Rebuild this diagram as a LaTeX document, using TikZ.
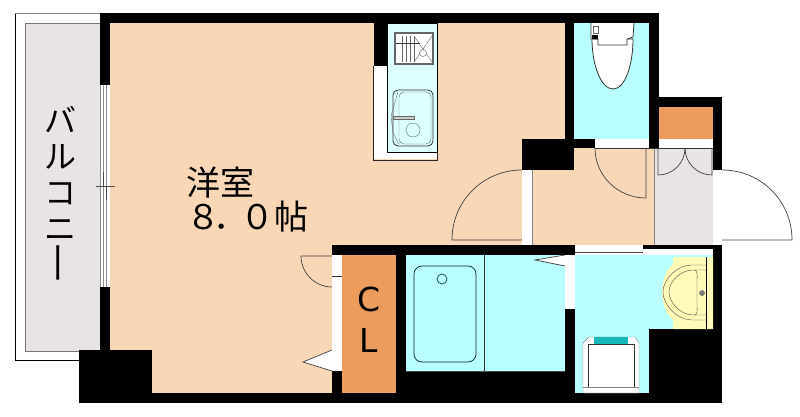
\documentclass[tikz,border=0pt]{standalone}
\usepackage{fontspec}
\usepackage{graphicx}
\setmainfont{Noto Sans CJK JP}
\newfontfamily\latinfont{DejaVu Sans}
\definecolor{floorcol}{HTML}{F8D7B7}
\definecolor{graycol}{HTML}{E9E4E4}
\definecolor{bathcol}{HTML}{B9FFFF}
\definecolor{kitchencol}{HTML}{DDFFFF}
\definecolor{closetcol}{HTML}{EC9C5C}
\definecolor{basincol}{HTML}{FFFAB8}
\definecolor{tealcol}{HTML}{14B8B8}
\begin{document}
\begin{tikzpicture}[x=1pt,y=-1pt]
		\tikzstyle{wall}=[fill=black, draw=none];
		\tikzstyle{floorarea}=[fill=floorcol, draw=none];
		\tikzstyle{wetarea}=[fill=bathcol, draw=none];
		\tikzstyle{closetarea}=[fill=closetcol, draw=none];
		\tikzstyle{opening}=[fill=white, draw=none];
		\tikzstyle{doorline}=[draw=black!75, line width=0.7pt];
		\tikzstyle{fixture}=[draw=black!80, line width=0.8pt];
		\tikzstyle{label}=[inner sep=0pt, font=\fontsize{34}{36}\selectfont, align=center];
		\useasboundingbox (0,0) rectangle (800,416);
		\fill[floorarea] (110,23) -- (565,23) -- (565,139) -- (522,139) -- (522,245) -- (332,245) -- (332,393) -- (152,393) -- (152,350) -- (110,350) -- cycle;
		\fill[floorarea] (532,148) rectangle (654,245);
		\fill[wetarea] (406,255) rectangle (565,371);
		\fill[wetarea] (575,255) -- (713,255) -- (713,329) -- (649,329) -- (649,393) -- (575,393) -- cycle;
		\fill[wetarea] (574,23) rectangle (649,139);
		\fill[closetarea] (342,255) rectangle (396,393);
		\fill[closetarea] (659,107) rectangle (713,139);
		\fill[graycol] (654,148) rectangle (713,245);
		\draw[black!50] (654,148) -- (654,245);
		\draw[black!50] (532,170) -- (532,245);
		\draw[black, line width=0.8pt] (15,13) -- (15,360) -- (79,360);
		\draw[black!50, line width=0.8pt] (15,13) -- (100,13);
		\draw[fill=graycol, draw=black!55, line width=0.8pt] (100,23) -- (25,23) -- (25,351) -- (100,351);
		\fill[wall] (100,13) rectangle (659,23);
		\fill[wall] (100,13) rectangle (110,85);
		\fill[wall] (100,287) rectangle (110,350);
		\fill[wall] (79,350) rectangle (152,403);
		\fill[wall] (79,393) rectangle (722,403);
		\fill[wall] (565,13) rectangle (574,148);
		\fill[wall] (649,13) rectangle (659,148);
		\fill[wall] (522,139) rectangle (574,170);
		\fill[wall] (574,139) rectangle (595,148);
		\fill[wall] (659,97) rectangle (722,107);
		\fill[wall] (713,97) rectangle (722,170);
		\fill[wall] (332,245) rectangle (575,255);
		\fill[wall] (643,245) rectangle (722,249);
		\fill[wall] (713,245) rectangle (722,403);
		\fill[wall] (649,329) rectangle (722,403);
		\fill[wall] (565,309) rectangle (575,403);
		\fill[wall] (396,255) rectangle (406,403);
		\fill[wall] (396,371) rectangle (575,403);
		\fill[wall] (332,371) rectangle (342,403);
		\fill[wall] (374,23) rectangle (387,66);
		\fill[opening] (100,85) rectangle (110,287);
		\draw[black!45] (100,85) -- (100,287);
		\draw[black!45] (103,85) -- (103,287);
		\draw[black!45] (106,85) -- (106,287);
		\draw[black!70] (96,186) -- (115,186);
		\draw[black!70] (103,172) -- (103,186);
		\draw[black!70] (106,186) -- (106,200);
		\fill[opening] (595,139) rectangle (649,148);
		\fill[opening] (659,139) rectangle (713,148);
		\fill[opening] (522,170) rectangle (532,245);
		\fill[opening] (713,170) rectangle (722,245);
		\fill[opening] (575,245) rectangle (643,252);
		\fill[opening] (643,249) rectangle (713,255);
		\fill[opening] (575,252) rectangle (643,255);
		\fill[wetarea] (575,255) rectangle (713,256);
		\fill[opening] (565,255) rectangle (575,309);
		\fill[opening] (332,255) rectangle (342,371);
		\draw[black!70] (575,252) -- (643,252);
		\draw[black!80] (595,148) -- (713,148);
		\draw[black!80] (332,276) -- (342,276);
		\draw[doorline] (522,170) .. controls (483,170) and (452,201) .. (452,240) -- (522,240);
		\draw[doorline] (722,170) .. controls (761,170) and (792,201) .. (792,240) -- (722,240);
		\draw[doorline] (595,148) .. controls (595,176) and (618,198) .. (646,198) -- (646,148);
		\draw[doorline] (658,148) -- (658,175) .. controls (673,175) and (685,163) .. (685,148);
		\draw[doorline] (712,148) -- (712,175) .. controls (697,175) and (685,163) .. (685,148);
		\draw[doorline] (332,287) .. controls (315,287) and (301,273) .. (301,256) -- (332,256);
		\draw[doorline, fill=white] (332,350) -- (303,362) -- (332,371);
		\draw[doorline, fill=white] (565,255) -- (535,260) -- (565,266);
		\draw[black!85] (373,66) -- (373,160) -- (437,160) -- (437,152);
		\fill[opening] (374,66) rectangle (387,159);
		\fill[opening] (374,152) rectangle (437,159);
		\draw[fill=kitchencol, draw=black, line width=0.7pt] (387,23) rectangle (437,152);
		\draw[fill=white, draw=black!60, line width=1.2pt] (395,33) rectangle (433,64);
		\foreach \xpos in {402,406,410,414}
			\draw[black!60] (\xpos,36) -- (\xpos,62);
		\draw[black!80] (396,43) -- (420,43);
		\draw[black!60] (414,36) -- (432,62);
		\draw[black!60] (432,36) -- (414,62);
		\draw[fill=white, draw=black!60] (423,53) circle (3.5);
		\draw[fixture, fill=kitchencol, rounded corners=5pt] (393,90) rectangle (433,146);
		\draw[draw=black!60, rounded corners=5pt] (399,92) rectangle (431,144);
		\draw[draw=black!60] (413,130) circle (7);
		\draw[draw=black!60, fill=white!80!black] (393,116) rectangle (414,119);
		\draw[draw=black!60] (398,92) -- (391,116) -- (393,133) -- (399,144);
		\draw[fixture, fill=white] (592,39) .. controls (592,65) and (601,89) .. (613,89) .. controls (625,89) and (633,65) .. (633,39) -- cycle;
		\draw[fixture, fill=white] (591,23) -- (591,39) -- (598,39) -- (598,45) -- (627,45) -- (627,39) -- (633,37) -- (634,23);
		\draw[black!60] (593,26) rectangle (598,33);
		\fill[black] (592,35) rectangle (598,39);
		\draw[fill=basincol, draw=none] (673,257) -- (713,257) -- (713,329) -- (673,329) -- (673,320) .. controls (666,314) and (662,303) .. (662,292) .. controls (662,281) and (666,270) .. (673,264) -- cycle;
		\draw[black!70] (706,265) -- (692,265) .. controls (677,265) and (663,279) .. (663,292) .. controls (663,305) and (677,320) .. (692,320) -- (706,320);
		\draw[black!70] (706,270) -- (693,270) .. controls (681,270) and (669,281) .. (669,292) .. controls (669,303) and (681,315) .. (693,315) -- (706,315);
		\draw[black!70] (694,270) .. controls (698,270) and (697,276) .. (697,280) -- (697,306) .. controls (697,310) and (698,315) .. (694,315);
		\draw[black, line width=0.8pt] (706,257) -- (706,329);
		\draw[fill=black!50, draw=black!70] (702,293) circle (2.5);
		\draw[fill=white, draw=black!50] (583,393) -- (583,343) -- (589,337) -- (635,337) -- (639,343) -- (639,393) -- cycle;
		\fill[tealcol] (594,337) rectangle (628,344);
		\draw[black!80] (588,387) -- (588,344) -- (634,344) -- (634,387);
		\draw[black!50] (583,387) -- (639,387);
		\draw[black!80] (484,255) -- (484,371);
		\draw[black!70] (406,371) -- (565,371);
		\draw[draw=black!80!tealcol, line width=0.7pt, rounded corners=8pt] (414,266) rectangle (476,362);
		\draw[draw=black!60!tealcol, line width=0.7pt] (442,279) circle (5);
		\node[label] (room) at (220.5,182.5) {洋室};
		\node[label, anchor=west] (area) at (186,217) {８\kern-7pt．\kern-7pt０\kern0pt帖};
		\node[label, font=\fontsize{32}{36}\selectfont] (balcony) at (60,195) {バ\\ル\\コ\\ニ\\\hspace*{8pt}\raisebox{8pt}{\rotatebox[origin=c]{90}{\scalebox{1.35}[1]{ー}}}};
		\node[label, font=\latinfont\fontsize{33}{41}\selectfont] (closet) at (369,320) {C\\L};
	\end{tikzpicture}
\end{document}
